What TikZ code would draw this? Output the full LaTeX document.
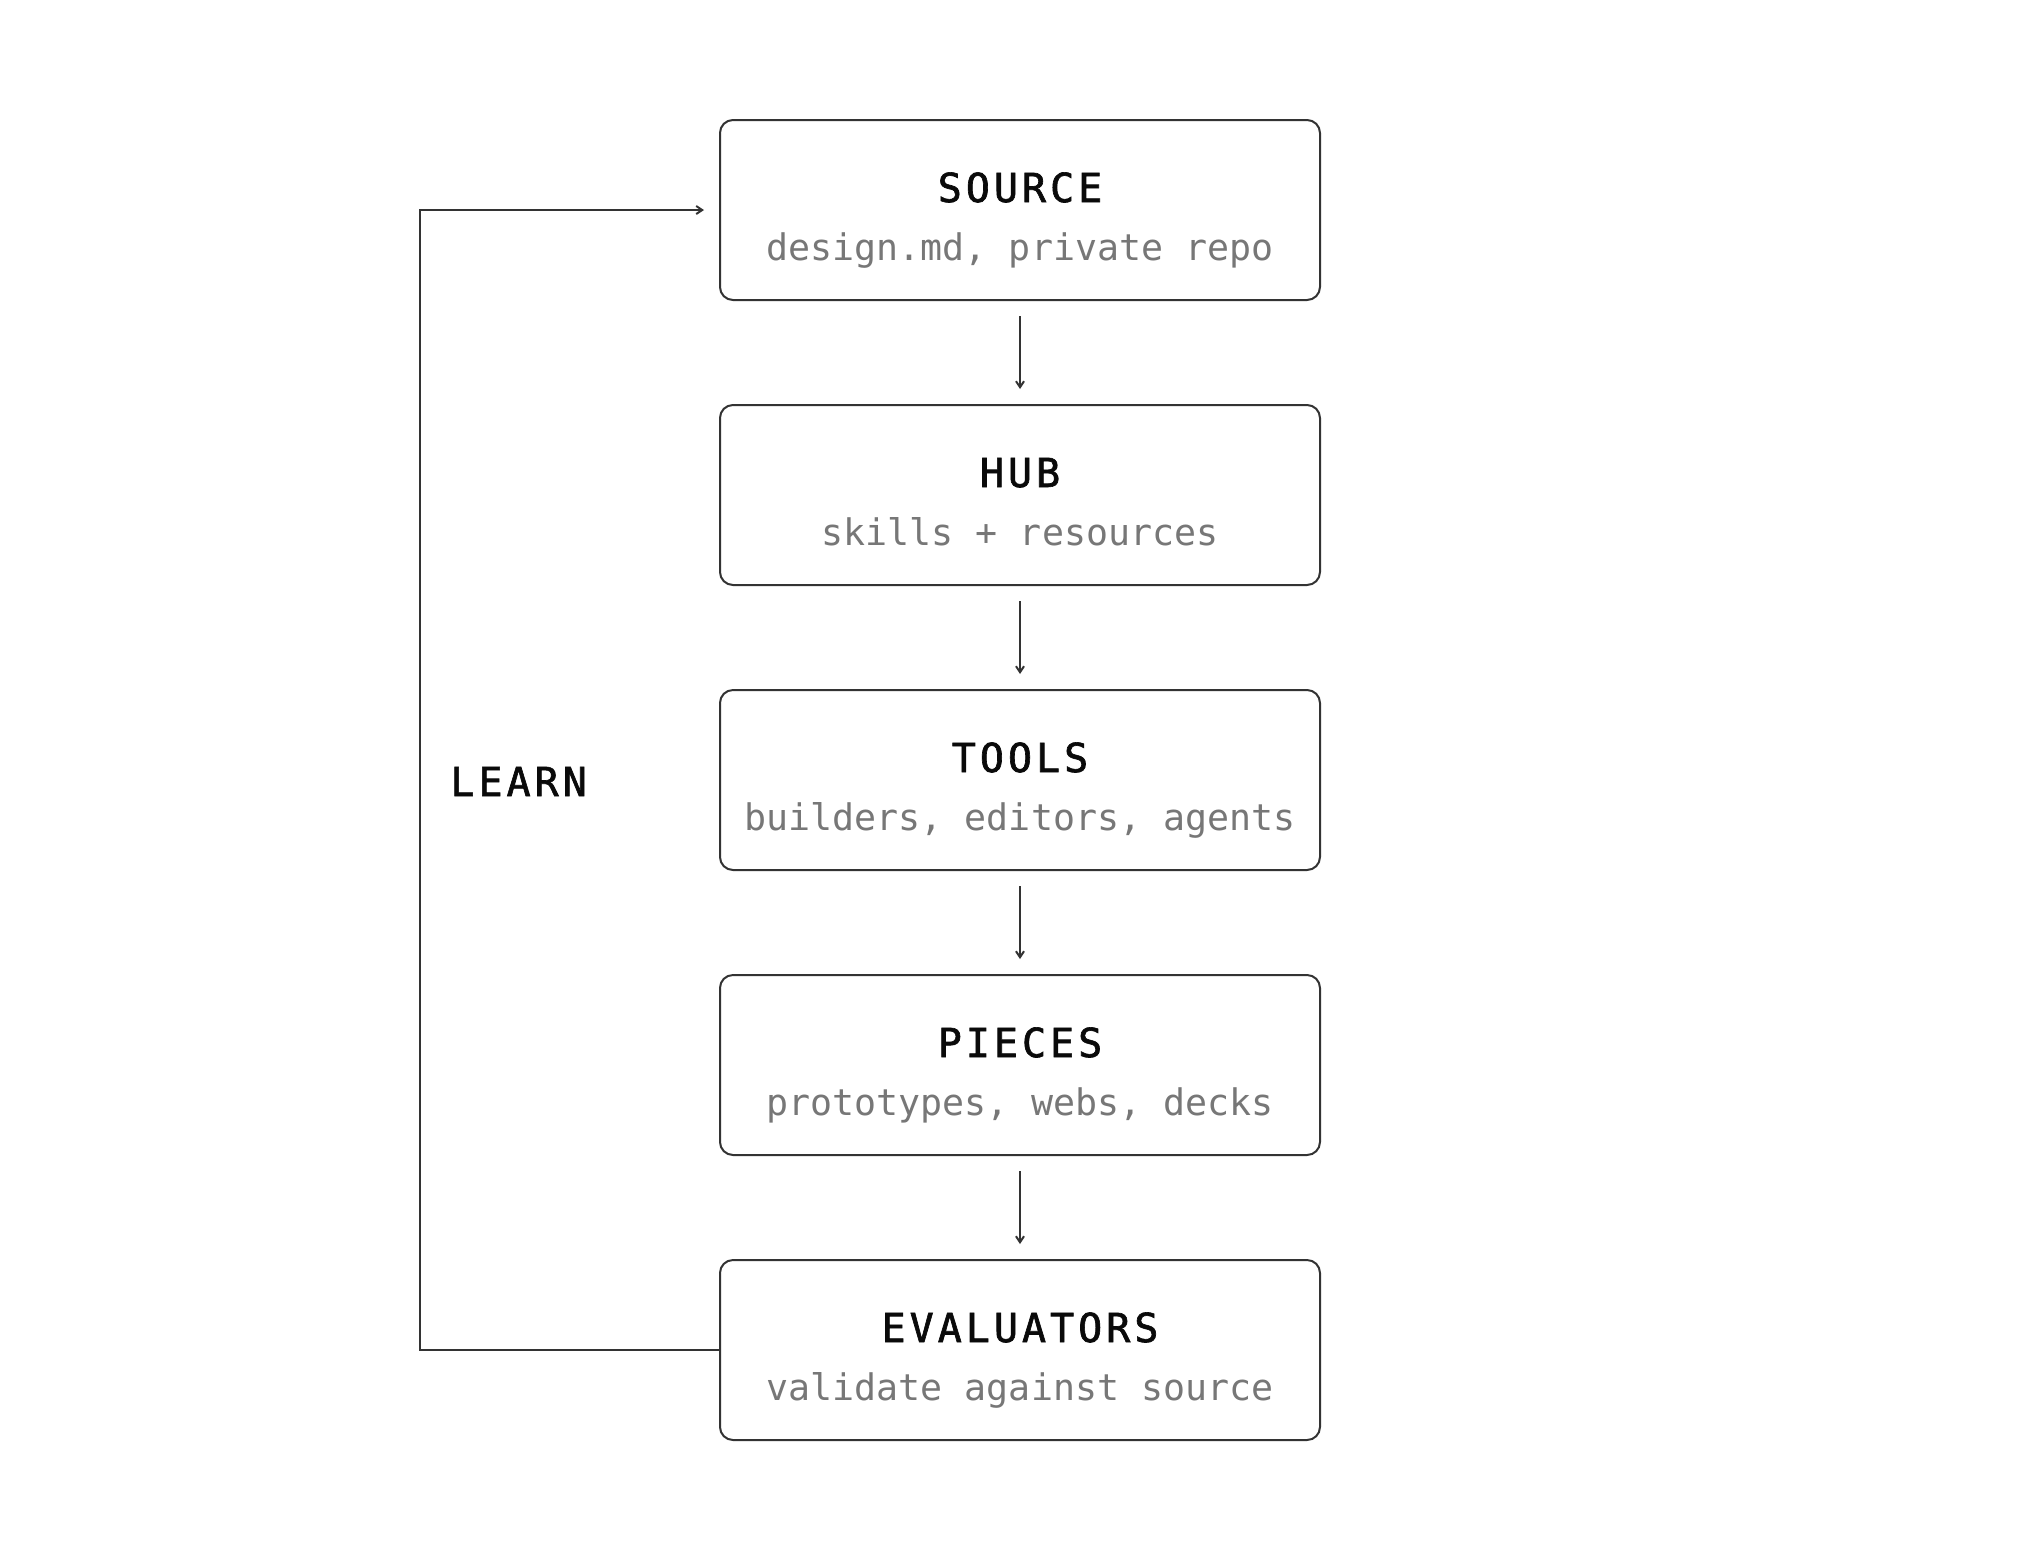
\documentclass[tikz,border=0pt]{standalone}
\usepackage{fontspec}
\usetikzlibrary{arrows.meta}
\newfontfamily\subfont{DejaVu Sans Mono}
\newfontfamily\ttlfont{DejaVu Sans Mono}[LetterSpace=10, FakeBold=1.6]
\definecolor{lineC}{HTML}{333333}
\definecolor{subC}{HTML}{777777}
\definecolor{ttlC}{HTML}{0A0A0A}
\tikzset{
  box/.style={draw=lineC, line width=1pt, rounded corners=6.5pt, minimum width=300pt, minimum height=90pt, inner sep=0pt},
  ttl/.style={anchor=base, inner sep=0pt, text=ttlC, font=\ttlfont\fontsize{20pt}{24pt}\selectfont},
  sub/.style={anchor=base, inner sep=0pt, text=subC, font=\subfont\fontsize{18.3pt}{22pt}\selectfont},
  conn/.style={draw=lineC, line width=1pt, -{Straight Barb[length=3pt,width=4pt]}},
}
\begin{document}
\begin{tikzpicture}[x=0.5pt,y=-0.5pt]
\useasboundingbox (0,0) rectangle (2040,1560);
\fill[white] (0,0) rectangle (2040,1560);
\node[box] (b1) at (1020,210) {};
\node[box] (b2) at (1020,495) {};
\node[box] (b3) at (1020,780) {};
\node[box] (b4) at (1020,1065) {};
\node[box] (b5) at (1020,1350) {};
\node[ttl] (t1) at (1020,202) {SOURCE};
\node[sub] (s1) at (1020,260) {design.md, private repo};
\node[ttl] (t2) at (1020,487) {HUB};
\node[sub] (s2) at (1020,545) {skills + resources};
\node[ttl] (t3) at (1020,772) {TOOLS};
\node[sub] (s3) at (1020,830) {builders, editors, agents};
\node[ttl] (t4) at (1020,1057) {PIECES};
\node[sub] (s4) at (1020,1115) {prototypes, webs, decks};
\node[ttl] (t5) at (1020,1342) {EVALUATORS};
\node[sub] (s5) at (1020,1400) {validate against source};
\node[ttl, anchor=base west] (learn) at (450,796) {LEARN};
\foreach \a/\b in {b1/b2,b2/b3,b3/b4,b4/b5}{
  \draw[conn] ([yshift=-7.5pt]\a.south) -- ([yshift=7.5pt]\b.north);
}
\coordinate (lc1) at (420,1350);
\coordinate (lc2) at (420,210);
\draw[conn] (b5.west) -- (lc1) -- (lc2) -- ([xshift=-7.5pt]b1.west);
\end{tikzpicture}
\end{document}
